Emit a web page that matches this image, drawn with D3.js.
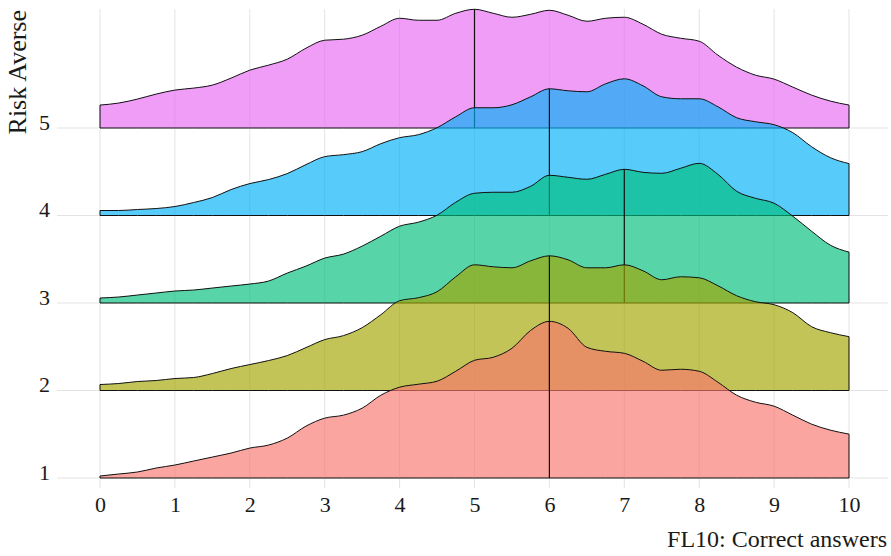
<!DOCTYPE html>
<html>
<head>
<meta charset="utf-8">
<script src="https://cdn.jsdelivr.net/npm/d3@7"></script>
<style>
  body { margin: 0; background: #fff; }
  svg { display: block; }
  text { font-family: "Liberation Serif", "Times New Roman", serif; fill: #1a1a1a; }
</style>
</head>
<body>
<svg id="chart" width="891" height="556"></svg>
<script>
// evaluation grid on the x axis (correct answers)
const xGrid = [0, 0.25, 0.5, 0.75, 1, 1.25, 1.5, 1.75, 2, 2.25, 2.5, 2.75, 3, 3.25, 3.5, 3.75,
  4, 4.25, 4.5, 4.75, 5, 5.25, 5.5, 5.75, 6, 6.25, 6.5, 6.75, 7, 7.25, 7.5, 7.75,
  8, 8.25, 8.5, 8.75, 9, 9.25, 9.5, 9.75, 10];

const categories = [1, 2, 3, 4, 5];
const xTicks = [0, 1, 2, 3, 4, 5, 6, 7, 8, 9, 10];

// relative density per risk-aversion level
const density1 = [0.002, 0.004, 0.006, 0.010, 0.013, 0.017, 0.021, 0.025, 0.030, 0.033, 0.040, 0.052, 0.060, 0.063, 0.070, 0.083,
  0.091, 0.094, 0.097, 0.107, 0.118, 0.121, 0.130, 0.148, 0.157, 0.150, 0.131, 0.127, 0.125, 0.117, 0.108, 0.109,
  0.107, 0.096, 0.083, 0.076, 0.072, 0.063, 0.054, 0.048, 0.044];
const density2 = [0.006, 0.007, 0.009, 0.010, 0.012, 0.013, 0.017, 0.022, 0.026, 0.030, 0.035, 0.043, 0.051, 0.055, 0.063, 0.076,
  0.090, 0.093, 0.099, 0.114, 0.126, 0.124, 0.123, 0.130, 0.135, 0.131, 0.123, 0.123, 0.126, 0.120, 0.111, 0.114,
  0.113, 0.105, 0.095, 0.089, 0.086, 0.078, 0.064, 0.058, 0.054];
const density3 = [0.005, 0.006, 0.008, 0.010, 0.012, 0.013, 0.015, 0.017, 0.019, 0.022, 0.030, 0.037, 0.045, 0.049, 0.057, 0.067,
  0.077, 0.081, 0.088, 0.101, 0.110, 0.111, 0.111, 0.117, 0.128, 0.126, 0.124, 0.129, 0.134, 0.131, 0.130, 0.135,
  0.140, 0.129, 0.112, 0.105, 0.100, 0.087, 0.072, 0.058, 0.051];
const density4 = [0.005, 0.005, 0.006, 0.007, 0.009, 0.013, 0.018, 0.026, 0.032, 0.036, 0.042, 0.051, 0.059, 0.061, 0.064, 0.072,
  0.078, 0.081, 0.088, 0.099, 0.108, 0.108, 0.111, 0.119, 0.127, 0.125, 0.124, 0.132, 0.137, 0.130, 0.119, 0.117,
  0.117, 0.109, 0.098, 0.094, 0.091, 0.083, 0.069, 0.058, 0.052];
const density5 = [0.023, 0.025, 0.029, 0.034, 0.038, 0.040, 0.043, 0.050, 0.058, 0.063, 0.069, 0.080, 0.088, 0.089, 0.093, 0.102,
  0.110, 0.108, 0.108, 0.115, 0.119, 0.115, 0.111, 0.114, 0.118, 0.113, 0.107, 0.110, 0.111, 0.104, 0.094, 0.090,
  0.087, 0.073, 0.061, 0.053, 0.049, 0.041, 0.033, 0.027, 0.023];

const medians = [6, 6, 7, 6, 5];
const colors = ['#F8766D', '#A3A500', '#00BF7D', '#00B0F6', '#E76BF3'];

const densities = [density1, density2, density3, density4, density5];
const ridgeScale = 1.79; // tallest ridge height, in category steps

const svg = d3.select('#chart');

const panel = { left: 57, right: 888, top: 9, bottom: 488 };

const xScale = d3.scaleLinear().domain([0, 10]).range([100, 849]);
const yScale = d3.scaleLinear().domain([1, 5]).range([478, 128]);

const maxDensity = d3.max(densities, d => d3.max(d));

// grid lines
svg.append('g')
  .selectAll('line')
  .data(xTicks)
  .join('line')
  .attr('x1', d => xScale(d)).attr('x2', d => xScale(d))
  .attr('y1', panel.top).attr('y2', panel.bottom)
  .attr('stroke', '#e3e3e3').attr('stroke-width', 1);

svg.append('g')
  .selectAll('line')
  .data(categories)
  .join('line')
  .attr('x1', panel.left).attr('x2', panel.right)
  .attr('y1', d => yScale(d)).attr('y2', d => yScale(d))
  .attr('stroke', '#e3e3e3').attr('stroke-width', 1);

// ridges, top one first so the lower ones sit in front
const ridges = categories.map((c, i) => ({
  cat: c,
  color: colors[i],
  median: medians[i],
  points: xGrid.map((x, j) => ({ x: x, h: densities[i][j] / maxDensity * ridgeScale }))
})).reverse();

const ridgeG = svg.append('g');

ridges.forEach(r => {
  const area = d3.area()
    .x(p => xScale(p.x))
    .y0(yScale(r.cat))
    .y1(p => yScale(r.cat + p.h))
    .curve(d3.curveMonotoneX);

  ridgeG.append('path')
    .datum(r.points)
    .attr('d', area)
    .attr('fill', r.color)
    .attr('fill-opacity', 0.66)
    .attr('stroke', '#111')
    .attr('stroke-width', 1);

  const m = r.points.find(p => p.x === r.median);
  ridgeG.append('line')
    .attr('x1', xScale(r.median)).attr('x2', xScale(r.median))
    .attr('y1', yScale(r.cat)).attr('y2', yScale(r.cat + m.h))
    .attr('stroke', '#111')
    .attr('stroke-width', 1.2);
});

// axes
const xAxis = svg.append('g')
  .attr('transform', `translate(0, ${panel.bottom})`)
  .call(d3.axisBottom(xScale).tickValues(xTicks).tickSize(0).tickFormat(d3.format('d')));
xAxis.select('.domain').remove();
xAxis.selectAll('text')
  .attr('y', 24).attr('dy', 0)
  .style('font-size', '22px')
  .style('font-family', '"Liberation Serif", serif')
  .attr('fill', '#1a1a1a');

const yAxis = svg.append('g')
  .attr('transform', `translate(${panel.left}, 0)`)
  .call(d3.axisLeft(yScale).tickValues(categories).tickSize(0).tickPadding(7).tickFormat(d3.format('d')));
yAxis.select('.domain').remove();
yAxis.selectAll('text')
  .attr('y', 1).attr('dy', 0)
  .style('font-size', '22px')
  .style('font-family', '"Liberation Serif", serif')
  .attr('fill', '#1a1a1a');

// axis titles
svg.append('text')
  .attr('x', 887)
  .attr('y', 547)
  .attr('text-anchor', 'end')
  .style('font-size', '24px')
  .text('FL10: Correct answers');

svg.append('text')
  .attr('transform', 'rotate(-90)')
  .attr('x', -10)
  .attr('y', 26)
  .attr('text-anchor', 'end')
  .style('font-size', '26px')
  .text('Risk Averse');
</script>
</body>
</html>
